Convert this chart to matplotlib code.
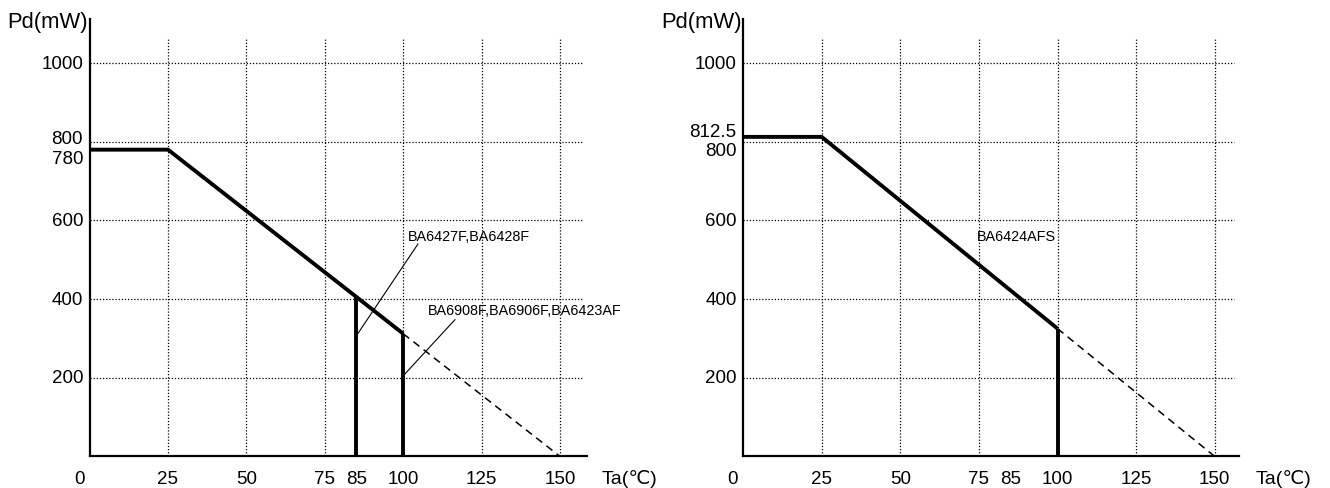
import matplotlib
matplotlib.use("Agg")
import matplotlib.pyplot as plt

plt.rcParams['font.family'] = ['Liberation Sans', 'DejaVu Sans']

# derating curves (Ta in degC, Pd in mW)
left_ta = [0, 25, 85, 100]
left_pd = [780, 780, 406, 312]
left_dash_ta = [100, 150]
left_dash_pd = [312, 0]
left_cut_ta = [85, 100]
left_cut_pd = [406, 312]

right_ta = [0, 25, 100]
right_pd = [812.5, 812.5, 325]
right_dash_ta = [100, 150]
right_dash_pd = [325, 0]
right_cut_ta = [100]
right_cut_pd = [325]

grid_x = [25, 50, 75, 100, 125, 150]
grid_y = [200, 400, 600, 800, 1000]
x_ticks = [25, 50, 75, 85, 100, 125, 150]

left_yticks = [1000, 800, 780, 600, 400, 200]
left_ylabels = ['1000', '800', '780', '600', '400', '200']
left_ynudge = [0, 3, -8.5, 0, 0, 0]       # px
right_yticks = [1000, 812.5, 800, 600, 400, 200]
right_ylabels = ['1000', '812.5', '800', '600', '400', '200']
right_ynudge = [0, 5, -9, 0, 0, 0]

fig = plt.figure(figsize=(13.3, 4.89), dpi=100)
ax1 = fig.add_axes([89.6 / 1330, 31.6 / 489, 158.6 * 3.136 / 1330, 437.3 / 489])
ax2 = fig.add_axes([743.1 / 1330, 31.6 / 489, 157.8 * 3.144 / 1330, 437.3 / 489])

PX = 0.72  # points per pixel at dpi 100


def setup(ax, xmax, yticks, ylabels, ynudge):
    ax.set_xlim(0, xmax)
    ax.set_ylim(0, 1112)
    for s in ['top', 'right']:
        ax.spines[s].set_visible(False)
    for s in ['left', 'bottom']:
        ax.spines[s].set_linewidth(1.6)
    ax.set_xticks([])
    ax.set_yticks([])
    ax.vlines(grid_x, 0, 1064, colors='black', linestyles=(0, (1, 1.5)), linewidth=0.9)
    ax.hlines(grid_y, 0, xmax - 1.6, colors='black', linestyles=(0, (1, 1.5)), linewidth=0.9)
    for t in x_ticks:
        ax.annotate(str(t), xy=(t, 0), xytext=(0, -22 * PX), textcoords='offset points',
                    ha='center', va='center', fontsize=13.5, annotation_clip=False)
    ax.annotate('0', xy=(0, 0), xytext=(-10.5 * PX, -22 * PX), textcoords='offset points',
                ha='center', va='center', fontsize=13.5, annotation_clip=False)
    ax.annotate('Ta(℃)', xy=(150, 0), xytext=(69 * PX, -22 * PX), textcoords='offset points',
                ha='center', va='center', fontsize=14, annotation_clip=False)
    for v, lab, dy in zip(yticks, ylabels, ynudge):
        ax.annotate(lab, xy=(0, v), xytext=(-6.5 * PX, dy * PX), textcoords='offset points',
                    ha='right', va='center', fontsize=13.5, annotation_clip=False)
    ax.annotate('Pd(mW)', xy=(0, 1112), xytext=(-1.5 * PX, -2 * PX), textcoords='offset points',
                ha='right', va='center', fontsize=15.8, annotation_clip=False)


setup(ax1, 158.6, left_yticks, left_ylabels, left_ynudge)
setup(ax2, 157.8, right_yticks, right_ylabels, right_ynudge)

# left chart
ax1.plot(left_ta, left_pd, color='black', linewidth=2.8, solid_capstyle='butt', zorder=3)
ax1.plot(left_dash_ta, left_dash_pd, color='black', linewidth=1.1, linestyle=(0, (5, 3.5)), zorder=3)
ax1.vlines(left_cut_ta, 0, left_cut_pd, colors='black', linewidth=2.8, zorder=3)
ax1.plot([85, 104.7], [306, 540], color='black', linewidth=0.8, zorder=4)
ax1.text(101.5, 560, 'BA6427F,BA6428F', fontsize=10.4, ha='left', va='center')
ax1.plot([100, 116.5], [205, 347.6], color='black', linewidth=0.8, zorder=4)
ax1.text(107.8, 372, 'BA6908F,BA6906F,BA6423AF', fontsize=10.4, ha='left', va='center')

# right chart
ax2.plot(right_ta, right_pd, color='black', linewidth=2.8, solid_capstyle='butt', zorder=3)
ax2.plot(right_dash_ta, right_dash_pd, color='black', linewidth=1.1, linestyle=(0, (5, 3.5)), zorder=3)
ax2.vlines(right_cut_ta, 0, right_cut_pd, colors='black', linewidth=2.8, zorder=3)
ax2.text(74.4, 560, 'BA6424AFS', fontsize=10.4, ha='left', va='center')

fig.savefig('out.png', dpi=100)
